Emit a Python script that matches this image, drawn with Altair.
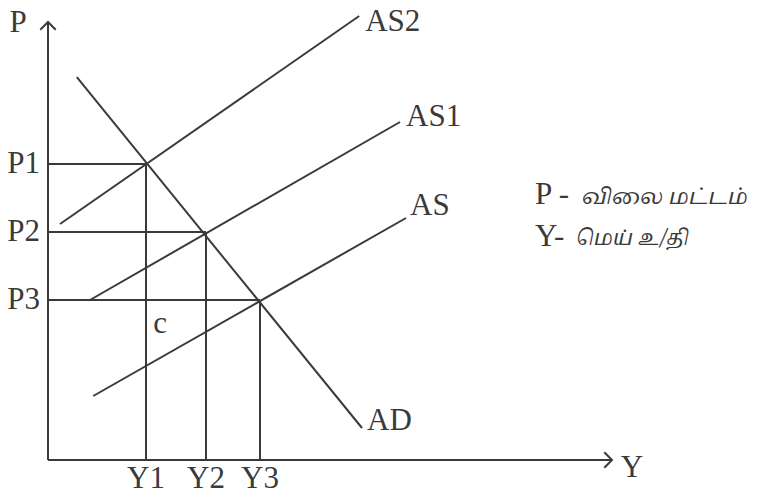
import altair as alt
import pandas as pd

# ---- values (data units: origin at the axes' corner) ----
price_labels = ["P1", "P2", "P3"]
price_values = [7.4, 5.7, 4.0]

output_labels = ["Y1", "Y2", "Y3"]
output_values = [2.45, 3.95, 5.3]

curve_names = ["AS2", "AS1", "AS", "AD"]
curve_x_start = [0.3, 1.05, 1.13, 0.72]
curve_y_start = [5.9, 4.0, 1.6, 9.57]
curve_x_end = [7.78, 8.8, 8.95, 7.85]
curve_y_end = [11.1, 8.45, 6.05, 0.8]

y_axis_top = 10.95
x_axis_right = 14.1

legend_keys = ["P -", "Y-"]
legend_texts = ["விலை மட்டம்", "மெய் உ/தி"]

# ---- styling ----
INK = "#3a3a3a"
FONT = "Liberation Serif"
TAMIL_FONT = "Noto Serif Tamil, Noto Sans Tamil, Lohit Tamil, serif"
FS = 31
XDOM = [-1, 17.65]
YDOM = [-0.85, 11.3]

xs = alt.Scale(domain=XDOM, nice=False, zero=False)
ys = alt.Scale(domain=YDOM, nice=False, zero=False)

def X(f):
    return alt.X(f, type="quantitative", scale=xs, axis=None)

def Y(f):
    return alt.Y(f, type="quantitative", scale=ys, axis=None)

# axes
axes_df = pd.DataFrame({
    "x": [0.0, 0.0], "y": [0.0, 0.0],
    "x2": [0.0, x_axis_right], "y2": [y_axis_top, 0.0],
})
axes = alt.Chart(axes_df).mark_rule(color=INK, strokeWidth=2).encode(
    x=X("x"), y=Y("y"), x2="x2", y2="y2"
)

chevron = "M -1 1 L 0 0 L 1 1"
tip_up = alt.Chart(pd.DataFrame({"x": [0.0], "y": [y_axis_top]})).mark_point(
    shape=chevron, size=240, filled=False, color=INK, strokeWidth=2, opacity=1
).encode(x=X("x"), y=Y("y"))
tip_right = alt.Chart(pd.DataFrame({"x": [x_axis_right], "y": [0.0]})).mark_point(
    shape=chevron, size=240, filled=False, color=INK, strokeWidth=2, opacity=1, angle=90
).encode(x=X("x"), y=Y("y"))

# curves
curves_df = pd.DataFrame({
    "name": curve_names,
    "x": curve_x_start, "y": curve_y_start,
    "x2": curve_x_end, "y2": curve_y_end,
})
curves = alt.Chart(curves_df).mark_rule(color=INK, strokeWidth=2).encode(
    x=X("x"), y=Y("y"), x2="x2", y2="y2"
)

# guide lines to the equilibria
hguide_df = pd.DataFrame({"x": [0.0] * 3, "x2": output_values, "y": price_values})
vguide_df = pd.DataFrame({"x": output_values, "y": [0.0] * 3, "y2": price_values})
hguides = alt.Chart(hguide_df).mark_rule(color=INK, strokeWidth=2).encode(
    x=X("x"), x2="x2", y=Y("y")
)
vguides = alt.Chart(vguide_df).mark_rule(color=INK, strokeWidth=2).encode(
    x=X("x"), y=Y("y"), y2="y2"
)

text_kw = dict(font=FONT, fontSize=FS, color=INK, baseline="middle")

p_labels = alt.Chart(pd.DataFrame({"t": price_labels, "x": [0.0] * 3, "y": price_values})).mark_text(
    align="right", dx=-8, **text_kw
).encode(x=X("x"), y=Y("y"), text="t:N")

y_labels = alt.Chart(pd.DataFrame({"t": output_labels, "x": output_values, "y": [0.0] * 3})).mark_text(
    align="center", dy=19, **text_kw
).encode(x=X("x"), y=Y("y"), text="t:N")

offsets = {"AS2": (6, 6), "AS1": (6, -5), "AS": (4, -12), "AD": (5, -7)}
curve_labels = []
for i, n in enumerate(curve_names):
    dx, dy = offsets[n]
    curve_labels.append(
        alt.Chart(pd.DataFrame({"t": [n], "x": [curve_x_end[i]], "y": [curve_y_end[i]]})).mark_text(
            align="left", dx=dx, dy=dy, **text_kw
        ).encode(x=X("x"), y=Y("y"), text="t:N")
    )

axis_p = alt.Chart(pd.DataFrame({"t": ["P"], "x": [0.0], "y": [y_axis_top]})).mark_text(
    align="center", dx=-30, dy=1, **text_kw
).encode(x=X("x"), y=Y("y"), text="t:N")
axis_y = alt.Chart(pd.DataFrame({"t": ["Y"], "x": [x_axis_right], "y": [0.0]})).mark_text(
    align="center", dx=20, dy=8, **text_kw
).encode(x=X("x"), y=Y("y"), text="t:N")

c_label = alt.Chart(pd.DataFrame({"t": ["c"], "x": [output_values[0]], "y": [price_values[2]]})).mark_text(
    align="center", dx=14, dy=24, **text_kw
).encode(x=X("x"), y=Y("y"), text="t:N")

# legend (right side): Latin key in serif, Tamil description in a Tamil font
legend_rows_y = [187, 229]
legend_marks = []
for i in range(2):
    legend_marks.append(
        alt.Chart(pd.DataFrame({"t": [legend_keys[i]]})).mark_text(
            align="left", **text_kw
        ).encode(x=alt.value(527), y=alt.value(legend_rows_y[i]), text="t:N")
    )
legend_marks.append(
    alt.Chart(pd.DataFrame({"t": [legend_texts[0]]})).mark_text(
        align="left", baseline="middle", font=TAMIL_FONT, fontSize=22,
        fontStyle="italic", color=INK,
    ).encode(x=alt.value(574), y=alt.value(legend_rows_y[0] + 2), text="t:N")
)
legend_marks.append(
    alt.Chart(pd.DataFrame({"t": [legend_texts[1]]})).mark_text(
        align="left", baseline="middle", font=TAMIL_FONT, fontSize=21,
        fontStyle="italic", color=INK,
    ).encode(x=alt.value(568), y=alt.value(legend_rows_y[1] + 2), text="t:N")
)

chart = alt.layer(
    axes, tip_up, tip_right, hguides, vguides, curves,
    p_labels, y_labels, *curve_labels, axis_p, axis_y, c_label, *legend_marks,
).properties(
    width=746, height=486,
    autosize=alt.AutoSizeParams(type="none"),
    padding=0,
    background="white",
).configure_view(stroke=None)

chart.save("out.html", embed_options={"renderer": "svg", "actions": False})
